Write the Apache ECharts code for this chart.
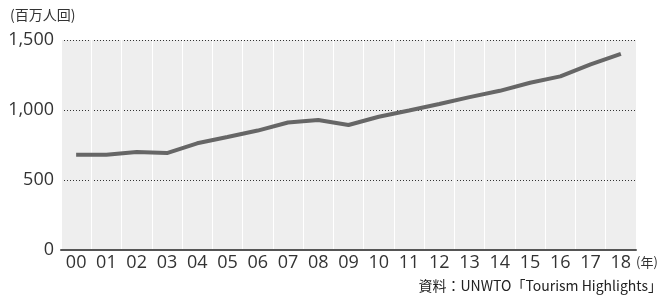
<!DOCTYPE html>
<html lang="ja">
<head>
    <meta charset="UTF-8">
    <title>国際観光客到着数</title>
    <style>
      html, body { margin: 0; padding: 0; background: #fff; }
    </style>
</head>
<body>
    <div id="chart" style="width:668px; height:297px;"></div>

    <script src="https://cdn.jsdelivr.net/npm/echarts@6/dist/echarts.min.js"></script>
    <script type="text/javascript">
      var years = ['00','01','02','03','04','05','06','07','08','09','10','11','12','13','14','15','16','17','18'];
      var arrivals = [680, 680, 700, 692, 762, 807, 853, 911, 928, 893, 952, 996, 1043, 1092, 1137, 1195, 1240, 1326, 1401];
      var yTicks = [0, 500, 1000, 1500];

      var font = '"Open Sans", "Noto Sans CJK JP", sans-serif';
      var jpFont = '"Noto Sans CJK JP", "Noto Sans", sans-serif';
      var chart = echarts.init(document.getElementById('chart'));

      var option = {
        animation: false,
        grid: {
          left: 61, right: 32, top: 40, bottom: 47,
          show: true,
          backgroundColor: '#eeeeee',
          borderWidth: 0
        },
        xAxis: {
          type: 'category',
          data: years,
          boundaryGap: true,
          axisLine: { lineStyle: { color: '#555', width: 2 } },
          axisTick: { show: false },
          axisLabel: { color: '#333', fontSize: 18, fontFamily: font, margin: 4 },
          splitLine: { show: true, lineStyle: { color: '#ffffff', width: 1 } }
        },
        yAxis: {
          type: 'value',
          min: yTicks[0],
          max: yTicks[yTicks.length - 1],
          interval: 500,
          axisLine: { show: false },
          axisTick: { show: false },
          axisLabel: {
            color: '#333', fontSize: 18, fontFamily: font, margin: 7,
            formatter: function (v) { return v.toLocaleString('en-US'); }
          },
          splitLine: { lineStyle: { color: '#333', type: [1, 2], width: 1 } }
        },
        graphic: [
          { type: 'text', left: 10, top: 8,
            style: { text: '(百万人回)', fill: '#333', fontSize: 14, fontFamily: jpFont } },
          { type: 'text', left: 636, top: 256,
            style: { text: '(年)', fill: '#333', fontSize: 13, fontFamily: jpFont } },
          { type: 'text', right: 6, top: 279,
            style: { text: '資料：UNWTO「Tourism Highlights」', fill: '#222', fontSize: 14, fontFamily: jpFont } }
        ],
        series: [
          {
            type: 'line',
            data: arrivals,
            symbol: 'none',
            lineStyle: { color: '#666666', width: 4 }
          }
        ]
      };
      chart.setOption(option);
    </script>
</body>
</html>
